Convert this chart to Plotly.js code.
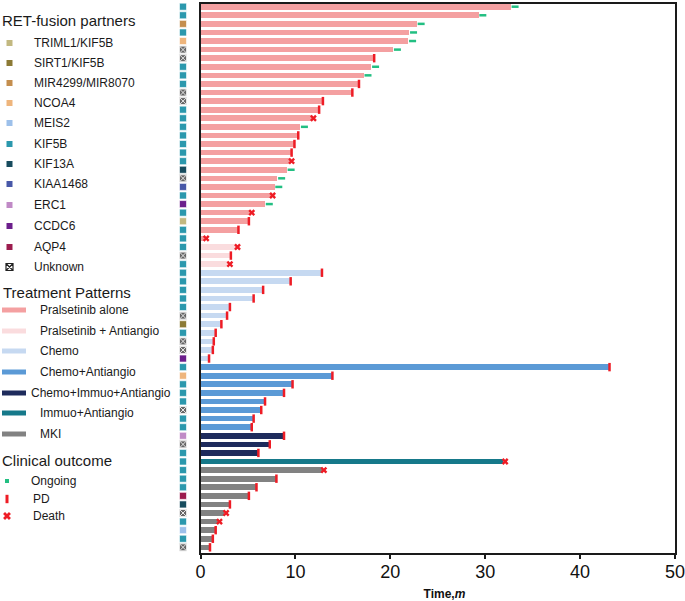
<!DOCTYPE html>
<html><head><meta charset="utf-8">
<script src="https://cdn.plot.ly/plotly-3.0.1.min.js"></script>
<style>html,body{margin:0;padding:0;background:#fff}#chart{width:685px;height:601px}</style>
</head><body><div id="chart"></div>
<script>
// ---- Data (one entry per patient, top to bottom) ----
const durations = [32.7,29.3,22.8,22.0,21.9,20.3,18.3,18.0,17.2,16.7,16.0,12.9,12.5,11.7,10.5,10.3,9.9,9.6,9.4,9.1,8.1,7.8,7.4,6.8,5.2,5.1,4.0,0.4,
  3.7,3.2,2.9,
  12.8,9.5,6.6,5.6,3.1,2.8,2.2,1.6,1.4,1.3,0.9,
  43.1,13.9,9.7,8.8,6.8,6.4,5.6,5.4,
  8.8,7.3,6.1,
  31.9,
  12.8,8.0,5.9,5.1,3.1,2.5,1.8,1.6,1.3,1.0];
const treatments = [
  'PA','PA','PA','PA','PA','PA','PA','PA','PA','PA','PA','PA','PA','PA','PA','PA','PA','PA','PA','PA','PA','PA','PA','PA','PA','PA','PA','PA',
  'PAA','PAA','PAA',
  'C','C','C','C','C','C','C','C','C','C','C',
  'CA','CA','CA','CA','CA','CA','CA','CA',
  'CIA','CIA','CIA',
  'IA',
  'MKI','MKI','MKI','MKI','MKI','MKI','MKI','MKI','MKI','MKI'];
const outcomes = [
  'O','O','O','O','O','O','PD','O','O','PD','PD','PD','PD','D','O','PD','PD','PD','D','O','O','O','D','O','D','PD','PD','D',
  'D','PD','D',
  'PD','PD','PD','PD','PD','PD','PD','PD','PD','PD','PD',
  'PD','PD','PD','PD','PD','PD','PD','PD',
  'PD','PD','PD',
  'D',
  'D','PD','PD','PD','PD','D','D','PD','PD','PD'];
const partners = [
  'KIF5B','KIF5B','MIR4299/MIR8070','KIF5B','NCOA4','Unknown','Unknown','KIF5B','KIF5B','KIF5B','Unknown','Unknown','KIF5B','KIF5B','KIF5B','KIF5B','KIF5B','KIF5B','KIF5B','KIF13A','Unknown','KIAA1468','KIF5B','CCDC6','KIF5B','TRIML1/KIF5B','KIF5B','KIF5B',
  'KIF5B','Unknown','KIF5B',
  'KIF5B','KIF5B','KIF5B','KIF5B','KIF5B','Unknown','SIRT1/KIF5B','KIF5B','Unknown','Unknown','CCDC6',
  'KIF5B','NCOA4','KIF5B','KIF5B','KIF5B','Unknown','KIF5B','KIF5B',
  'ERC1','Unknown','KIF5B',
  'KIF5B',
  'KIF5B','KIF5B','KIF5B','AQP4','KIF13A','Unknown','KIF5B','MEIS2','KIF5B','Unknown'];
const partnerNames = ['TRIML1/KIF5B','SIRT1/KIF5B','MIR4299/MIR8070','NCOA4','MEIS2','KIF5B','KIF13A','KIAA1468','ERC1','CCDC6','AQP4','Unknown'];
const treatmentKeys = ['PA','PAA','C','CA','CIA','IA','MKI'];
const treatmentNames = ['Pralsetinib alone','Pralsetinib + Antiangio','Chemo','Chemo+Antiangio','Chemo+Immuo+Antiangio','Immuo+Antiangio','MKI'];
const outcomeKeys = ['O','PD','D'];
const outcomeNames = ['Ongoing','PD','Death'];
const xTicks = [0,10,20,30,40,50];

// ---- Styles ----
const partnerColors = {'TRIML1/KIF5B':'#c2b880','SIRT1/KIF5B':'#8c7a35','MIR4299/MIR8070':'#c48e4e','NCOA4':'#eeb57c','MEIS2':'#9dc0ea','KIF5B':'#2b98ad','KIF13A':'#174c5e','KIAA1468':'#4858a8','ERC1':'#c08ac6','CCDC6':'#6c1f8c','AQP4':'#9c1c4e','Unknown':'#666666'};
const treatColors = {PA:'#f4a0a1',PAA:'#fadcde',C:'#c6d9f1',CA:'#5b9ad6',CIA:'#1e2b5c',IA:'#16798a',MKI:'#828282'};
const RED = '#ee1c25', GREEN = '#22bf82';
const FONT = 'Liberation Sans, Arial, sans-serif';

const rows = durations.map((d,i)=>i+1);
const traces = [];

// bars
traces.push({type:'bar', orientation:'h', x:durations, y:rows, base:0, width:0.66,
  marker:{color:treatments.map(t=>treatColors[t]), line:{width:0}}, hoverinfo:'x', showlegend:false});

// outcome markers
const outcomeStyle = {
  O:{symbol:'line-ew-open', size:5, line:{color:GREEN,width:2.5}, color:GREEN, off:0.45},
  PD:{symbol:'line-ns-open', size:6, line:{color:RED,width:2.5}, color:RED, off:0.0},
  D:{symbol:'x', size:6, line:{color:RED,width:0}, color:RED, off:0.2}
};
outcomeKeys.forEach(k=>{
  const xs=[], ys=[];
  outcomes.forEach((o,i)=>{ if(o===k){ xs.push(durations[i]+outcomeStyle[k].off); ys.push(rows[i]); } });
  const s = outcomeStyle[k];
  traces.push({type:'scatter', mode:'markers', x:xs, y:ys, cliponaxis:false,
    marker:{symbol:s.symbol, size:s.size, color:s.color, line:s.line}, showlegend:false, hoverinfo:'skip'});
});

// partner column
partnerNames.forEach(p=>{
  const ys = [];
  partners.forEach((q,i)=>{ if(q===p) ys.push(rows[i]); });
  if(!ys.length) return;
  const unk = p==='Unknown';
  traces.push({type:'scatter', mode:'markers', xaxis:'x2', y:ys, x:ys.map(()=>0.5), cliponaxis:false,
    marker:{symbol: unk?'square-x':'square', size:7, color:partnerColors[p], line:{color: unk?'#e8e8e8':'rgba(255,255,255,0.6)', width:1}},
    showlegend:false, hoverinfo:'skip'});
});

// ---- Custom legend (pixel-coordinate axes x3/y3) ----
const annotations = [];
const shapes = [];
function label(text,x,y,size){ annotations.push({xref:'x3',yref:'y3',x:x,y:y,text:text,showarrow:false,xanchor:'left',yanchor:'middle',font:{family:FONT,size:size,color:'#1a1a1a'}}); }
label('RET-fusion partners',0,20,15);
const partnerY = [43,63,83,103,123,144,164,184,205,226,247,267];
partnerNames.forEach((p,i)=>{
  label(p,32,partnerY[i],12);
  const unk = p==='Unknown';
  traces.push({type:'scatter',mode:'markers',xaxis:'x3',yaxis:'y3',x:[9.5],y:[partnerY[i]],cliponaxis:false,
    marker:{symbol: unk?'square-x-open':'square', size: unk?7:6, color: unk?'#222':partnerColors[p], line:{width: unk?1.2:0, color:'#222'}},
    showlegend:false,hoverinfo:'skip'});
});
label('Treatment Patterns',1,292,15);
const treatY = [310,331,351,372,393,413,434];
treatmentKeys.forEach((k,i)=>{
  label(treatmentNames[i], k==='CIA'?29:38, treatY[i], 12);
  shapes.push({type:'line',xref:'x3',yref:'y3',x0:2,x1:26,y0:treatY[i],y1:treatY[i],line:{color:treatColors[k],width:5}});
});
label('Clinical outcome',0,460,15);
const outY = [481,499,516];
const outX = [29,31,31];
outcomeKeys.forEach((k,i)=>{
  label(outcomeNames[i], outX[i], outY[i], 12);
  let m;
  if(k==='O') m={symbol:'square',size:4,color:GREEN,line:{width:0}};
  else if(k==='PD') m={symbol:'line-ns-open',size:6,color:RED,line:{color:RED,width:3}};
  else m={symbol:'x',size:7,color:RED,line:{width:0}};
  traces.push({type:'scatter',mode:'markers',xaxis:'x3',yaxis:'y3',x:[7],y:[outY[i]],cliponaxis:false,marker:m,showlegend:false,hoverinfo:'skip'});
});

const W=685, PR=675;
const layout = {
  width:685, height:601,
  margin:{l:0,r:W-PR,t:4,b:48,pad:0},
  paper_bgcolor:'#fff', plot_bgcolor:'#fff',
  font:{family:FONT,color:'#111'},
  showlegend:false,
  bargap:0,
  xaxis:{domain:[200.5/PR,1], range:[0,50], tickvals:xTicks, ticktext:xTicks.map(String),
    showgrid:false, zeroline:false, showline:true, linecolor:'#1a1a1a', linewidth:2, mirror:true,
    ticks:'outside', ticklen:4, tickwidth:2, tickcolor:'#1a1a1a', ticklabeloverflow:'allow', ticklabelstandoff:-3,
    tickfont:{family:FONT,size:18,color:'#111'},
    title:{text:'&nbsp;&nbsp;&nbsp;&nbsp;<b>Time,<i>m</i></b>', font:{family:FONT,size:12,color:'#111'}, standoff:12}},
  yaxis:{range:[64.66,0.685], showgrid:false, zeroline:false, showticklabels:false, ticks:'', showline:true, linecolor:'#1a1a1a', linewidth:2, mirror:true},
  xaxis2:{domain:[176/PR,190/PR], range:[0,1], anchor:'y', visible:false, fixedrange:true},
  xaxis3:{domain:[0,170/PR], range:[0,170], anchor:'y3', visible:false},
  yaxis3:{domain:[0,1], range:[553,4], anchor:'x3', visible:false},
  annotations:annotations, shapes:shapes
};
Plotly.newPlot('chart', traces, layout, {displayModeBar:false, staticPlot:true});
</script></body></html>
